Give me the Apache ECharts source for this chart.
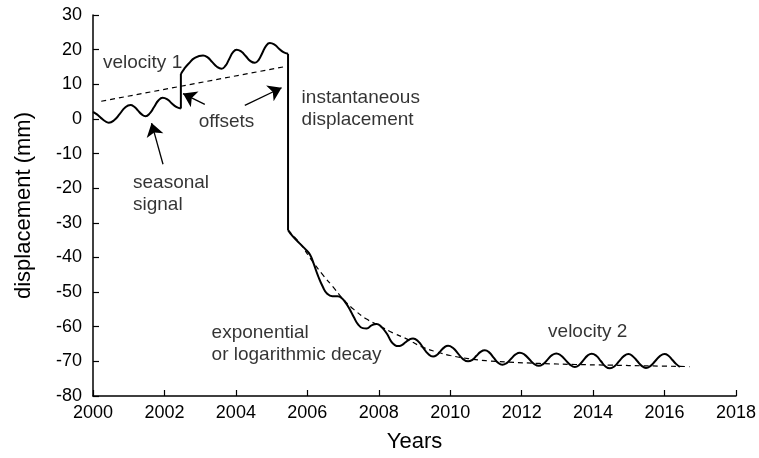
<!DOCTYPE html>
<html><head><meta charset="utf-8">
<script src="https://cdn.jsdelivr.net/npm/echarts@6/dist/echarts.min.js"></script>
<style>html,body{margin:0;padding:0;background:#fff}#c{width:759px;height:458px}</style>
</head><body><div id="c"></div>
<script>
// ---- data ----
const xTicks = [2000, 2018, 2];   // min, max, interval
const yTicks = [-80, 30, 10];

// seasonal signal before the first offset
const segA = [[2000.0,2.0],[2000.11,1.3],[2000.22,0.3],[2000.33,-0.6],[2000.44,-1.1],[2000.59,-0.4],[2000.75,1.45],[2000.9,3.3],[2001.05,4.0],[2001.155,3.5],[2001.26,2.4],[2001.365,1.3],[2001.47,0.8],[2001.59,1.6],[2001.71,3.45],[2001.83,5.3],[2001.95,6.1],[2002.08,5.65],[2002.2,4.55],[2002.33,3.45],[2002.46,3.0]];
// offset jump
const jump1 = [[2002.46,3.0],[2002.46,13.0]];
// after the offset, before the earthquake
const segB = [[2002.46,13.0],[2002.55,14.4],[2002.68,16.0],[2002.85,17.6],[2003.08,18.3],[2003.21,17.75],[2003.34,16.4],[2003.47,15.05],[2003.6,14.5],[2003.705,15.3],[2003.81,17.25],[2003.915,19.2],[2004.02,20.0],[2004.15,19.45],[2004.28,18.1],[2004.4,16.75],[2004.53,16.2],[2004.635,17.0],[2004.74,19.05],[2004.845,21.1],[2004.95,21.9],[2005.08,21.45],[2005.2,20.35],[2005.33,19.25],[2005.46,18.8]];
// instantaneous displacement
const jump2 = [[2005.46,18.8],[2005.46,-32.1]];
// post-seismic decay + velocity 2
const segC = [[2005.46,-32.1],[2005.6,-34.0],[2005.79,-36.0],[2005.98,-38.0],[2006.08,-39.3],[2006.16,-41.3],[2006.3,-45.3],[2006.44,-48.6],[2006.55,-50.4],[2006.7,-51.2],[2006.85,-51.2],[2006.96,-51.7],[2007.08,-53.2],[2007.19,-55.0],[2007.3,-57.2],[2007.42,-59.3],[2007.55,-60.4],[2007.66,-60.5],[2007.8,-59.6],[2007.94,-59.2],[2008.05,-59.8],[2008.22,-61.9],[2008.35,-64.3],[2008.45,-65.3],[2008.54,-65.6],
  [2008.645,-65.3],[2008.75,-64.5],[2008.855,-63.7],[2008.96,-63.4],[2009.1,-64.2],[2009.24,-66.0],[2009.38,-67.8],[2009.52,-68.6],[2009.625,-68.15],[2009.73,-67.05],[2009.835,-65.95],[2009.94,-65.5],
  [2010.08,-66.15],[2010.22,-67.75],[2010.36,-69.35],[2010.5,-70.0],[2010.62,-69.55],[2010.735,-68.4],[2010.85,-67.25],[2010.97,-66.8],
  [2011.09,-67.4],[2011.215,-68.9],[2011.34,-70.4],[2011.46,-71.0],[2011.58,-70.5],[2011.705,-69.25],[2011.83,-68.0],[2011.95,-67.5],
  [2012.08,-68.05],[2012.215,-69.4],[2012.35,-70.75],[2012.48,-71.3],[2012.6,-70.8],[2012.725,-69.5],[2012.85,-68.2],[2012.97,-67.7],
  [2013.1,-68.3],[2013.23,-69.65],[2013.36,-71.0],[2013.49,-71.6],[2013.61,-71.05],[2013.725,-69.7],[2013.845,-68.35],[2013.96,-67.8],
  [2014.09,-68.4],[2014.215,-69.9],[2014.34,-71.4],[2014.47,-72.0],[2014.6,-71.4],[2014.73,-69.95],[2014.86,-68.5],[2014.99,-67.9],
  [2015.11,-68.5],[2015.235,-69.9],[2015.36,-71.3],[2015.48,-71.9],[2015.61,-71.3],[2015.74,-69.9],[2015.87,-68.5],[2016.0,-67.9],
  [2016.11,-68.4],[2016.22,-69.6],[2016.33,-70.8],[2016.43,-71.6]];
// dashed models
const trend1 = [[2000.23,5.1],[2005.43,15.2]];
const decay = [[2005.46,-32.1],[2005.8,-36.0],[2006.12,-40.8],[2006.44,-45.1],[2006.72,-48.5],[2007.0,-52.0],[2007.3,-55.0],[2007.66,-57.8],[2008.03,-59.8],[2008.4,-61.8],[2008.78,-63.5],[2009.2,-65.8],[2009.6,-67.2],[2010.0,-68.3],[2010.5,-69.2],[2011.0,-69.8],[2011.6,-70.2],[2012.5,-70.6],[2013.5,-70.9],[2014.5,-71.1],[2015.5,-71.3],[2016.7,-71.5]];
// annotation arrows [tail, head]
const arrows = [
  [[2001.96,-13.1],[2001.64,-1.2]],
  [[2003.13,4.2],[2002.52,7.3]],
  [[2004.25,3.9],[2005.28,9.0]]
];
// annotation texts: [x, y, text]
const notes = [
  [2000.28,16.2,'velocity 1'],
  [2002.96,-0.9,'offsets'],
  [2005.84,2.8,'instantaneous\ndisplacement'],
  [2001.12,-21.7,'seasonal\nsignal'],
  [2003.32,-64.8,'exponential\nor logarithmic decay'],
  [2012.74,-61.4,'velocity 2']
];

const FONT = 'Liberation Sans, Arial, Helvetica, sans-serif';
const chart = echarts.init(document.getElementById('c'), null, {renderer:'canvas'});
const solid = {color:'#000', width:2};
const dashed = {color:'#000', width:1.2, type:[5,4]};
function lineSeries(data, style, smooth){
  return {type:'line', data:data, showSymbol:false, symbol:'none', smooth:smooth, lineStyle:style, silent:true, z:3};
}
chart.setOption({
  animation:false,
  backgroundColor:'#fff',
  grid:{left:93, right:23, top:15, bottom:62, containLabel:false},
  xAxis:{type:'value', min:xTicks[0], max:xTicks[1], interval:xTicks[2],
    name:'Years', nameLocation:'middle', nameGap:35,
    nameTextStyle:{fontFamily:FONT, fontSize:22, color:'#000'},
    axisLine:{show:true, onZero:false, lineStyle:{color:'#000', width:1.5}},
    axisTick:{show:true, inside:true, length:6, lineStyle:{color:'#000', width:1.2}},
    axisLabel:{fontFamily:FONT, fontSize:18, color:'#000', margin:8, formatter:v=>String(v)},
    splitLine:{show:false}},
  yAxis:{type:'value', min:yTicks[0], max:yTicks[1], interval:yTicks[2],
    name:'displacement (mm)', nameLocation:'middle', nameGap:58, nameRotate:90,
    nameTextStyle:{fontFamily:FONT, fontSize:22, color:'#000'},
    axisLine:{show:true, onZero:false, lineStyle:{color:'#000', width:1.5}},
    axisTick:{show:true, inside:true, length:6, lineStyle:{color:'#000', width:1.2}},
    axisLabel:{fontFamily:FONT, fontSize:18, color:'#000', margin:11},
    splitLine:{show:false}},
  series:[
    lineSeries(segA, solid, 0.5),
    lineSeries(jump1, solid, false),
    lineSeries(segB, solid, 0.5),
    lineSeries(jump2, solid, false),
    lineSeries(segC, solid, 0.5),
    lineSeries(trend1, dashed, false),
    lineSeries(decay, dashed, 0.4),
    {type:'lines', coordinateSystem:'cartesian2d', silent:true, z:4,
     symbol:['none','arrow'], symbolSize:[0,13],
     lineStyle:{color:'#000', width:1.3, opacity:1},
     data:arrows.map(a=>({coords:a}))},
    {type:'scatter', symbol:'circle', symbolSize:0, silent:true, z:5,
     data:notes.map(n=>({value:[n[0],n[1]], label:{formatter:n[2]}})),
     label:{show:true, position:'right', distance:0, align:'left', verticalAlign:'middle',
       fontFamily:FONT, fontSize:19, lineHeight:22, color:'#000'}}
  ]
});
</script></body></html>
